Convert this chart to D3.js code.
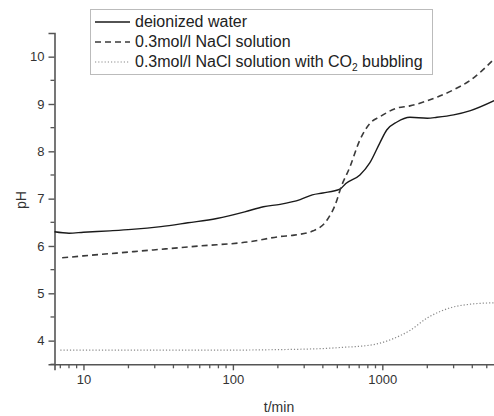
<!DOCTYPE html>
<html>
<head>
<meta charset="utf-8">
<script src="https://cdn.jsdelivr.net/npm/d3@7/dist/d3.min.js"></script>
<style>
  html, body { margin: 0; padding: 0; background: #fff; }
  svg { display: block; font-family: Arial, "Liberation Sans", sans-serif; }
</style>
</head>
<body>
<svg id="chart" width="494" height="416"></svg>
<script>
// ---- data ----
const seriesNames = ["deionized water", "0.3mol/l NaCl solution", "0.3mol/l NaCl solution with CO2 bubbling"];

const timeWater = [6.4, 8, 10, 15, 21, 33, 50, 78, 120, 160, 207, 282, 340, 400, 520, 570, 708, 826, 963, 1070, 1253, 1530, 2000, 2320, 3000, 3890, 5600];
const phWater   = [6.30, 6.27, 6.29, 6.32, 6.35, 6.41, 6.49, 6.58, 6.72, 6.83, 6.88, 6.98, 7.08, 7.12, 7.20, 7.32, 7.50, 7.76, 8.18, 8.45, 8.62, 8.72, 8.70, 8.72, 8.77, 8.86, 9.07];

const timeNaCl = [7.2, 10, 21.5, 60, 130, 207, 257, 345, 427, 497, 521, 607, 708, 826, 963, 1240, 1530, 2340, 3000, 3880, 5600];
const phNaCl   = [5.75, 5.79, 5.88, 6.00, 6.09, 6.20, 6.23, 6.32, 6.55, 6.97, 7.18, 7.67, 8.24, 8.59, 8.73, 8.91, 8.96, 9.15, 9.30, 9.50, 9.95];

const timeCO2 = [7, 20, 50, 100, 200, 300, 445, 550, 700, 920, 1200, 1540, 2000, 2500, 2900, 3880, 5600];
const phCO2   = [3.80, 3.80, 3.80, 3.80, 3.81, 3.82, 3.84, 3.86, 3.88, 3.93, 4.05, 4.22, 4.48, 4.63, 4.70, 4.77, 4.80];

const xMajorTicks = [10, 100, 1000];
const yMajorTicks = [4, 5, 6, 7, 8, 9, 10];

// ---- scales ----
const svg = d3.select("#chart");
const x = d3.scaleLog().domain([6.4, 6000]).range([54.5, 498.6]);
const y = d3.scaleLinear().domain([3.5, 10.5]).range([364.3, 33]);

const axisColor = "#555";

// minor ticks
const xMinor = [];
[1, 10, 100, 1000].forEach(d => { for (let k = 2; k <= 9; k++) { const v = d * k; if (v >= 6.4 && v <= 6000) xMinor.push(v); } });
const yMinor = [3.5, 4.5, 5.5, 6.5, 7.5, 8.5, 9.5];

// x axis
const xAxis = d3.axisBottom(x).tickValues(xMajorTicks).tickFormat(d3.format("d")).tickSize(6).tickPadding(4);
const gx = svg.append("g").attr("transform", "translate(0,364.3)").call(xAxis);
gx.select(".domain").attr("stroke", axisColor).attr("stroke-width", 1.6);
gx.selectAll(".tick line").attr("stroke", axisColor).attr("stroke-width", 1.4);
gx.selectAll(".tick text").attr("fill", "#333").attr("font-size", 13);
gx.append("g").selectAll("line").data(xMinor).join("line")
  .attr("x1", d => x(d)).attr("x2", d => x(d)).attr("y1", 0).attr("y2", 4)
  .attr("stroke", axisColor).attr("stroke-width", 1.3);

// y axis
const yAxis = d3.axisLeft(y).tickValues(yMajorTicks).tickFormat(d3.format("d")).tickSize(6).tickPadding(4);
const gy = svg.append("g").attr("transform", "translate(54.5,0)").call(yAxis);
gy.select(".domain").attr("stroke", axisColor).attr("stroke-width", 1.6);
gy.selectAll(".tick line").attr("stroke", axisColor).attr("stroke-width", 1.4);
gy.selectAll(".tick text").attr("fill", "#333").attr("font-size", 13);
gy.append("g").selectAll("line").data(yMinor).join("line")
  .attr("x1", 0).attr("x2", -4).attr("y1", d => y(d)).attr("y2", d => y(d))
  .attr("stroke", axisColor).attr("stroke-width", 1.3);

// axis titles
svg.append("text").attr("x", 279).attr("y", 412).attr("text-anchor", "middle")
  .attr("font-size", 14).attr("fill", "#333").text("t/min");
svg.append("text").attr("transform", "translate(26,200) rotate(-90)").attr("text-anchor", "middle")
  .attr("font-size", 14).attr("fill", "#333").text("pH");

// lines
const line = d3.line().x(d => x(d[0])).y(d => y(d[1])).curve(d3.curveMonotoneX);
const styles = [
  { stroke: "#1a1a1a", width: 1.4, dash: null },
  { stroke: "#3a3a3a", width: 1.6, dash: "6,4" },
  { stroke: "#8a8a8a", width: 1.2, dash: "1.2,2" }
];
const seriesData = [
  d3.zip(timeWater, phWater),
  d3.zip(timeNaCl, phNaCl),
  d3.zip(timeCO2, phCO2)
];
seriesData.forEach((data, i) => {
  svg.append("path").datum(data).attr("d", line)
    .attr("fill", "none").attr("stroke", styles[i].stroke)
    .attr("stroke-width", styles[i].width)
    .attr("stroke-dasharray", styles[i].dash);
});

// legend
const lg = svg.append("g");
lg.append("rect").attr("x", 90.5).attr("y", 9.5).attr("width", 342).attr("height", 65)
  .attr("fill", "#fff").attr("stroke", "#bbb").attr("stroke-width", 1);
const rowsY = [22, 42, 62];
const texts = [];
seriesNames.forEach((name, i) => {
  lg.append("line").attr("x1", 95).attr("x2", 130).attr("y1", rowsY[i]).attr("y2", rowsY[i])
    .attr("stroke", styles[i].stroke).attr("stroke-width", styles[i].width)
    .attr("stroke-dasharray", styles[i].dash);
  const t = lg.append("text").attr("x", 135).attr("y", rowsY[i] + 5)
    .attr("font-size", 14).attr("fill", "#222");
  if (name.includes("CO2")) {
    const parts = name.split("CO2");
    t.append("tspan").text(parts[0] + "CO");
    t.append("tspan").attr("font-size", 9).attr("dy", 4).text("2");
    t.append("tspan").attr("dy", -4).text(parts[1]);
  } else {
    t.text(name);
  }
  texts.push(t);
});
// fit legend font so the longest entry fills the box as in the original
const w = texts[2].node().getComputedTextLength();
const fs = Math.min(16, Math.max(13, 14 * 293 / w));
texts.forEach(t => t.attr("font-size", fs));
texts[2].selectAll("tspan").filter((d, i) => i === 1).attr("font-size", fs * 0.64);
</script>
</body>
</html>
